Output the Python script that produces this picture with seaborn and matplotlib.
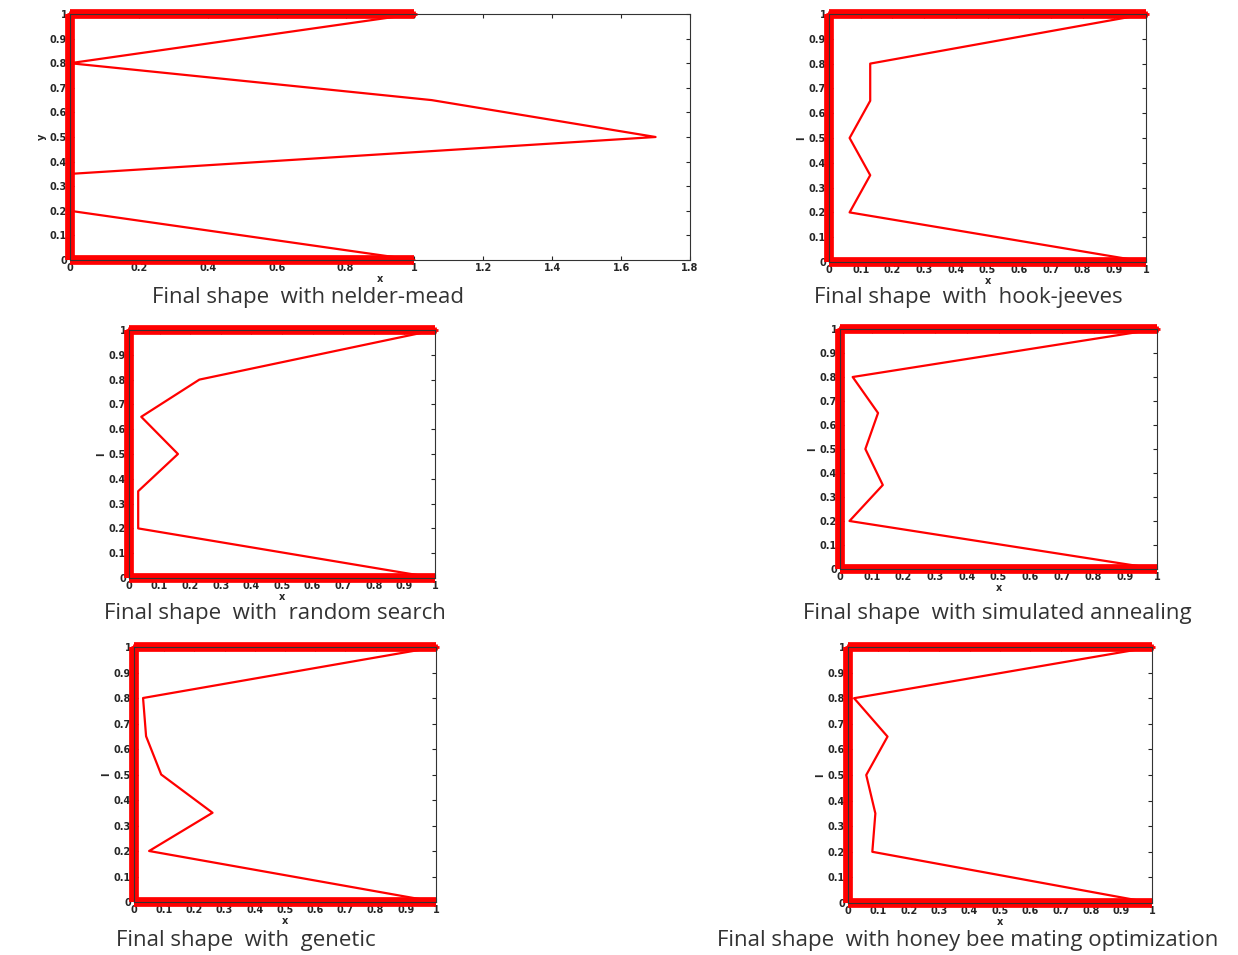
import numpy as np
import pandas as pd
import seaborn as sns
import matplotlib.pyplot as plt

# control points of the final shapes (y levels shared by all methods)
y_levels = [1.0, 0.8, 0.65, 0.5, 0.35, 0.2, 0.0]
x_nelder = [1.0, 0.0, 1.05, 1.7, 0.0, 0.0, 1.0]
x_hook = [1.0, 0.13, 0.13, 0.065, 0.13, 0.065, 1.0]
x_random = [1.0, 0.23, 0.04, 0.16, 0.03, 0.03, 1.0]
x_anneal = [1.0, 0.04, 0.12, 0.08, 0.135, 0.03, 1.0]
x_genetic = [1.0, 0.03, 0.04, 0.09, 0.26, 0.05, 1.0]
x_hbmo = [1.0, 0.02, 0.13, 0.06, 0.09, 0.08, 1.0]

captions = ["Final shape  with nelder-mead", "Final shape  with  hook-jeeves",
            "Final shape  with  random search", "Final shape  with simulated annealing",
            "Final shape  with  genetic", "Final shape  with honey bee mating optimization"]
shapes = [x_nelder, x_hook, x_random, x_anneal, x_genetic, x_hbmo]
xmax = [1.8, 1, 1, 1, 1, 1]
ylab = ["y", "l", "l", "l", "l", "l"]

# axes boxes in pixels: left, top, right, bottom
boxes = [(70, 14, 690, 260), (829, 14, 1146, 262),
         (129, 330, 435, 578), (840, 329, 1157, 569),
         (134, 647, 436, 902), (848, 647, 1152, 903)]
# caption centres in pixels
cap_pos = [(308, 297), (968, 297), (275, 613), (997, 613), (246, 940), (968, 940)]

W, H = 1238, 955
sns.set_style("ticks")
plt.rcParams['font.family'] = ['DejaVu Sans']
fig = plt.figure(figsize=(W / 100, H / 100), dpi=100)

red = "#ff0000"
for i, (xs, (l, t, r, b)) in enumerate(zip(shapes, boxes)):
    ax = fig.add_axes([l / W, 1 - b / H, (r - l) / W, (b - t) / H])
    # domain edges drawn as thick marker bands
    ax.plot([0, 1], [1, 1], color=red, lw=7, marker="+", ms=5, mew=2,
            markevery=0.05, clip_on=False, solid_capstyle="butt")
    ax.plot([0, 1], [0, 0], color=red, lw=7, clip_on=False, solid_capstyle="butt")
    ax.plot([0, 0], [0, 1], color=red, lw=7, clip_on=False, solid_capstyle="butt")
    df = pd.DataFrame({"x": xs, "y": y_levels})
    sns.lineplot(data=df, x="x", y="y", sort=False, estimator=None,
                 color=red, lw=1.6, ax=ax)
    ax.set_xlim(0, xmax[i])
    ax.set_ylim(0, 1)
    if xmax[i] > 1:
        ax.set_xticks(np.arange(0, 1.81, 0.2))
        ax.set_xticklabels(["0", "0.2", "0.4", "0.6", "0.8", "1", "1.2", "1.4", "1.6", "1.8"])
    else:
        ax.set_xticks(np.arange(0, 1.01, 0.1))
        ax.set_xticklabels(["0"] + [f"{v/10:.1f}" for v in range(1, 10)] + ["1"])
    ax.set_yticks(np.arange(0, 1.01, 0.1))
    ax.set_yticklabels(["0"] + [f"{v/10:.1f}" for v in range(1, 10)] + ["1"])
    ax.tick_params(direction="in", length=3, width=0.8, top=True, right=True,
                   labelsize=7, pad=2)
    for lab in ax.get_xticklabels() + ax.get_yticklabels():
        lab.set_fontweight("bold")
    for s in ax.spines.values():
        s.set_linewidth(0.8)
        s.set_color("#333333")
    ax.set_xlabel("x", fontsize=7, fontweight="bold", labelpad=1)
    ax.set_ylabel(ylab[i], fontsize=7, fontweight="bold", labelpad=2)
    cx, cy = cap_pos[i]
    fig.text(cx / W, 1 - cy / H, captions[i], ha="center", va="center",
             fontsize=16, family=["Open Sans", "DejaVu Sans"], color="#333333")

fig.savefig("out.png", dpi=100, facecolor="white")
